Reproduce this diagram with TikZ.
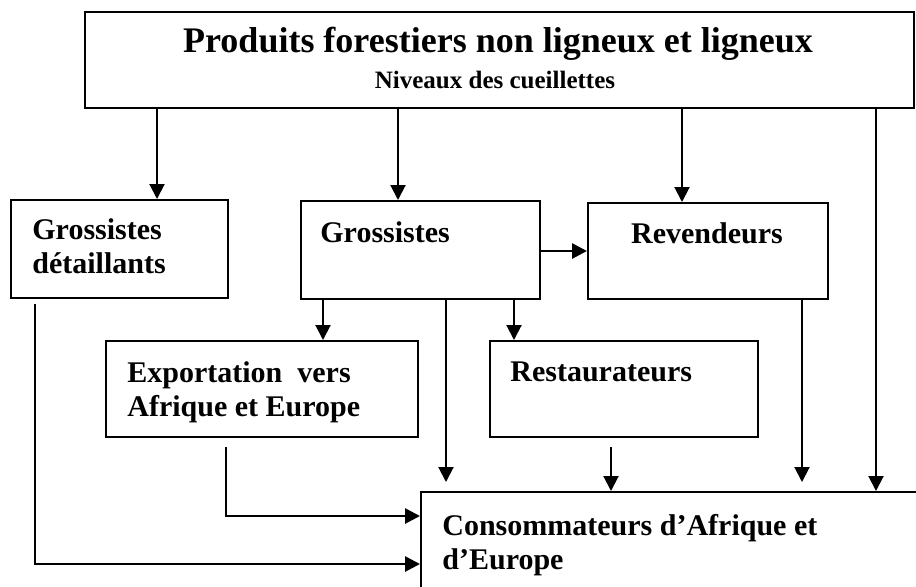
\documentclass[tikz,border=0pt]{standalone}
\usepackage{fontspec}
\setmainfont{Liberation Serif}
\usetikzlibrary{arrows.meta}
\tikzset{
  boite/.style={draw,line width=1pt,inner sep=0pt,anchor=north west},
  texte/.style={inner sep=0pt,align=left,font=\bfseries\fontsize{15}{17}\selectfont},
  fleche/.style={-{Triangle[length=7.5pt,width=7.5pt]},line width=1pt},
  grosse/.style={fleche,line width=1.4pt}
}
\begin{document}
\begin{tikzpicture}[x=0.5pt,y=-0.5pt,line join=miter]
\useasboundingbox (0,0) rectangle (916,586);
\clip (0,0) rectangle (916,586);
% boites
\node[boite,minimum width=414.5pt,minimum height=48pt] (prod) at (84,11) {};
\node[boite,minimum width=108.5pt,minimum height=49pt] (gd) at (10,199) {};
\node[boite,minimum width=119.5pt,minimum height=49pt] (gros) at (300,200) {};
\node[boite,minimum width=120pt,minimum height=48pt] (rev) at (587,202) {};
\node[boite,minimum width=156pt,minimum height=48pt] (exp) at (105,340) {};
\node[boite,minimum width=134pt,minimum height=48pt] (rest) at (489,340) {};
\node[boite,minimum width=255pt,minimum height=60pt] (cons) at (420,491) {};
% textes
\node[texte,font=\bfseries\fontsize{18}{20}\selectfont] (titre) at (498,44) {Produits forestiers non ligneux et ligneux};
\node[texte,font=\bfseries\fontsize{12.5}{14}\selectfont] (niveaux) at (495,80) {Niveaux des cueillettes};
\node[texte,anchor=west] (gdT) at (32,246) {Grossistes\\détaillants};
\node[texte,anchor=west] (grosT) at (320,232) {Grossistes};
\node[texte] (revT) at (707,233) {Revendeurs};
\node[texte,anchor=west] (expT) at (127,392) {Exportation\ \ vers\\Afrique et Europe};
\node[texte,anchor=west] (restT) at (510,372) {Restaurateurs};
\node[texte,anchor=west] (consT) at (442,545) {Consommateurs d’Afrique et\\d’Europe};
% points de passage
\coordinate (xa) at (157,0);
\coordinate (xb) at (398,0);
\coordinate (xc) at (682,0);
\coordinate (xf) at (876,0);
\coordinate (yr) at (0,251);
\coordinate (xg) at (323,0);
\coordinate (xh) at (514,0);
\coordinate (xi) at (446,0);
\coordinate (xr) at (611,0);
\coordinate (xv) at (802,0);
\coordinate (xe) at (226,516);
\coordinate (xd) at (35,564);
% fleches
\draw[fleche] (prod.south -| xa) -- (gd.north -| xa);
\draw[fleche] (prod.south -| xb) -- (gros.north -| xb);
\draw[fleche] (prod.south -| xc) -- (rev.north -| xc);
\draw[fleche] (prod.south -| xf) -- (cons.north -| xf);
\draw[grosse] (gros.east |- yr) -- (rev.west |- yr);
\draw[fleche] (gros.south -| xg) -- (exp.north -| xg);
\draw[fleche] (gros.south -| xh) -- (rest.north -| xh);
\draw[fleche,shorten >=4.5pt] (gros.south -| xi) -- (cons.north -| xi);
\draw[fleche,shorten <=4.5pt] (rest.south -| xr) -- (cons.north -| xr);
\draw[fleche,shorten >=4.5pt] (rev.south -| xv) -- (cons.north -| xv);
\draw[grosse,shorten <=4.5pt] (exp.south -| xe) |- (cons.west |- xe);
\draw[grosse,shorten <=2.5pt] (gd.south -| xd) |- (cons.west |- xd);
\end{tikzpicture}
\end{document}
